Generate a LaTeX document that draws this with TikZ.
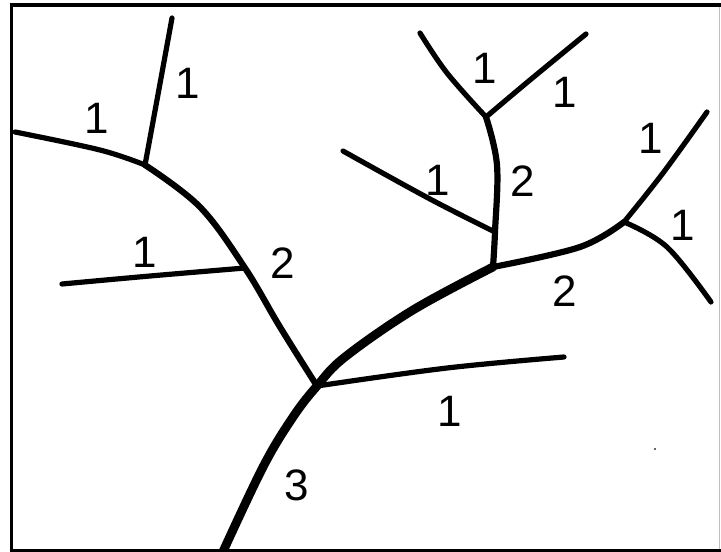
\documentclass[tikz,border=0pt]{standalone}
\usepackage{fontspec}
\setmainfont{Liberation Sans}
\begin{document}
\begin{tikzpicture}[x=1pt,y=-1pt,
  stream/.style={line cap=round,line join=round,black},
  ordone/.style={stream,line width=5.2pt},
  ordtwo/.style={stream,line width=6.2pt},
  ordthree/.style={stream,line width=8.8pt},
  lbl/.style={inner sep=0pt,font=\fontsize{44}{44}\selectfont},
  framel/.style={line width=3.6pt,black}]
\useasboundingbox (0,0) rectangle (721,552);
% junctions and ends
\coordinate (out) at (221,556);
\coordinate (J3) at (317,386);
\coordinate (J2) at (493,267);
\coordinate (JL) at (245,268);
\coordinate (JU) at (145,165);
\coordinate (JV) at (495,232);
\coordinate (JT) at (486,117);
\coordinate (JR) at (624,222);
\coordinate (e1) at (564,357);
\coordinate (eL) at (62,284);
\coordinate (eUL) at (15,132);
\coordinate (eUT) at (172,18);
\coordinate (eTL) at (420,33);
\coordinate (eTR) at (586,34);
\coordinate (eML) at (343,151);
\coordinate (eRU) at (707,112);
\coordinate (eRD) at (711,302);
% order 3
\draw[ordthree] plot[smooth,tension=0.6] coordinates {(out) (263,467) (293,417) (J3) (345,357) (413,310) (J2)};
% order 2
\draw[ordtwo] plot[smooth,tension=0.6] coordinates {(J3) (280,327) (JL) (200,207) (JU)};
\draw[ordtwo] plot[smooth,tension=0.6] coordinates {(J2) (JV) (497,165) (JT)};
\draw[ordtwo] plot[smooth,tension=0.6] coordinates {(J2) (580,247) (JR)};
% order 1
\draw[ordone] plot[smooth,tension=0.6] coordinates {(J3) (447,368) (e1)};
\draw[ordone] plot[smooth,tension=0.6] coordinates {(JL) (150,276) (eL)};
\draw[ordone] plot[smooth,tension=0.6] coordinates {(JU) (100,150) (eUL)};
\draw[ordone] plot[smooth,tension=0.6] coordinates {(JU) (157,100) (eUT)};
\draw[ordone] plot[smooth,tension=0.6] coordinates {(JT) (447,73) (eTL)};
\draw[ordone] plot[smooth,tension=0.6] coordinates {(JT) (530,80) (eTR)};
\draw[ordone] plot[smooth,tension=0.6] coordinates {(JV) (430,199) (eML)};
\draw[ordone] plot[smooth,tension=0.6] coordinates {(JR) (663,173) (eRU)};
\draw[ordone] plot[smooth,tension=0.6] coordinates {(JR) (667,247) (eRD)};
% labels
\node[lbl] (l1) at (97,118) {1};
\node[lbl] (l2) at (188,83) {1};
\node[lbl] (l3) at (145,252) {1};
\node[lbl] (l4) at (283,263) {2};
\node[lbl] (l5) at (485,68) {1};
\node[lbl] (l6) at (565,92) {1};
\node[lbl] (l7) at (438,180) {1};
\node[lbl] (l8) at (523,181) {2};
\node[lbl] (l9) at (651,138) {1};
\node[lbl] (l10) at (683,225) {1};
\node[lbl] (l11) at (565,291) {2};
\node[lbl] (l12) at (450,411) {1};
\node[lbl] (l13) at (297,485) {3};
% speck
\fill[black!80] (655,449) circle (1.2);
% frame
\draw[white,line width=6pt] (0,554) -- (721,554);
\draw[framel] (11.5,5) -- (11.5,550.5);
\draw[framel] (9.7,5) -- (721,5);
\draw[framel] (9.7,550.5) -- (721,550.5);
\draw[black!25,line width=0.8pt] (719.5,7) -- (719.5,549);
\end{tikzpicture}
\end{document}
